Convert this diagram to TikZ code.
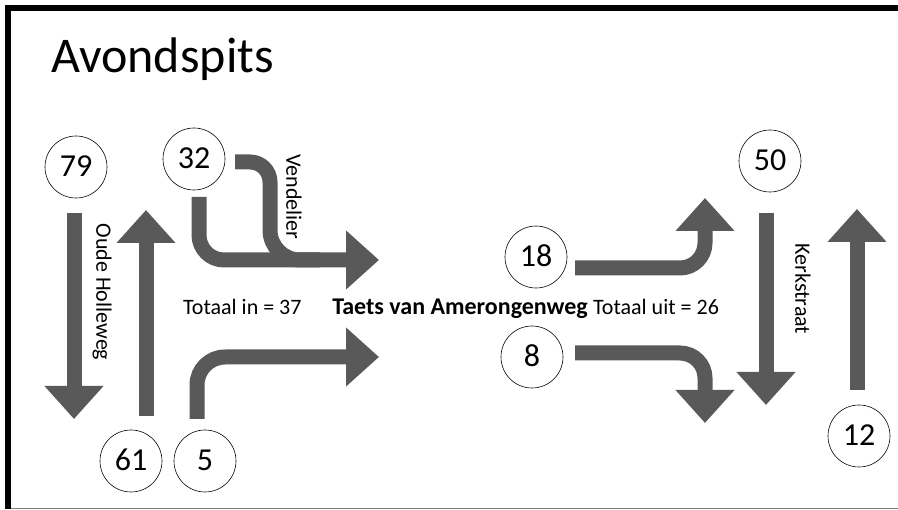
\documentclass[tikz,border=0pt]{standalone}
\usepackage{fontspec}
\setmainfont{Carlito}
\usetikzlibrary{arrows.meta}
\definecolor{flowgray}{RGB}{89,89,89}
\begin{document}
\begin{tikzpicture}[x=1pt,y=1pt,
  flow/.style={draw=flowgray, line width=15pt, -{Triangle[width=57pt,length=33pt]}},
  shaft/.style={draw=flowgray, line width=15pt},
  count/.style={circle, draw=black, line width=0.6pt, fill=white, minimum size=62pt, inner sep=0pt, text height=20pt, text depth=0pt, font=\fontsize{32}{32}\selectfont},
  lbl/.style={font=\fontsize{22}{22}\selectfont, inner sep=0pt},
  vlbl/.style={lbl, rotate=-90, anchor=center},
]
\useasboundingbox (0,0) rectangle (898,-510);
% frame
\fill[black] (5,-5) rectangle (898,-11);
\fill[black] (5,-5) rectangle (11,-509);
\draw[gray, line width=1.5pt] (11,-508.5) -- (898,-508.5);

% title
\node[anchor=base west, inner sep=0pt, font=\fontsize{50}{50}\selectfont] (title) at (51,-73) {Avondspits};

% counts
\node[count] (n79) at (76,-167) {79};
\node[count] (n32) at (194,-159) {32};
\node[count] (n61) at (131,-461) {61};
\node[count] (n5)  at (205,-461) {5};
\node[count] (n50) at (770,-161) {50};
\node[count] (n18) at (536,-257) {18};
\node[count] (n8)  at (532,-357) {8};
\node[count] (n12) at (859,-436) {12};

% arrow end points
\coordinate (a79s) at (74,-213);   \coordinate (a79e) at (74,-419);
\coordinate (a61s) at (146,-416);  \coordinate (a61e) at (146,-210);
\coordinate (a32s) at (199,-197);  \coordinate (a32e) at (379,-260);
\coordinate (v32s) at (235,-162);
\coordinate (a5s)  at (197,-419);  \coordinate (a5e)  at (379,-357);
\coordinate (a18s) at (575,-268);  \coordinate (a18e) at (705,-198);
\coordinate (a8s)  at (575,-353);  \coordinate (a8e)  at (705,-423);
\coordinate (a50s) at (766,-213);  \coordinate (a50e) at (766,-405);
\coordinate (a12s) at (857,-390);  \coordinate (a12e) at (857,-209);

% arrows
\draw[flow] (a79s) -- (a79e);
\draw[flow] (a61s) -- (a61e);
\draw[shaft] (v32s) -- ++(15,0) arc[start angle=90, end angle=0, radius=20pt]
   -- (270,-230) arc[start angle=180, end angle=270, radius=30pt] -- (320,-260);
\draw[flow, rounded corners=25pt] (a32s) |- (a32e);
\draw[flow, rounded corners=28pt] (a5s) |- (a5e);
\draw[flow, rounded corners=25pt] (a18s) -| (a18e);
\draw[flow, rounded corners=25pt] (a8s) -| (a8e);
\draw[flow] (a50s) -- (a50e);
\draw[flow] (a12s) -- (a12e);

% labels
\node[lbl, anchor=base west] (tin) at (183,-315) {Totaal in = 37};
\node[lbl, anchor=base east, font=\fontsize{24}{24}\selectfont\bfseries] (road) at (588,-315) {Taets van Amerongenweg};
\node[lbl, anchor=base west] (tout) at (593,-315) {Totaal uit = 26};
\node[vlbl] (vend) at (294,-197) {Vendelier};
\node[vlbl] (oude) at (102,-292) {Oude Holleweg};
\node[vlbl] (kerk) at (803,-289) {Kerkstraat};
\end{tikzpicture}
\end{document}
